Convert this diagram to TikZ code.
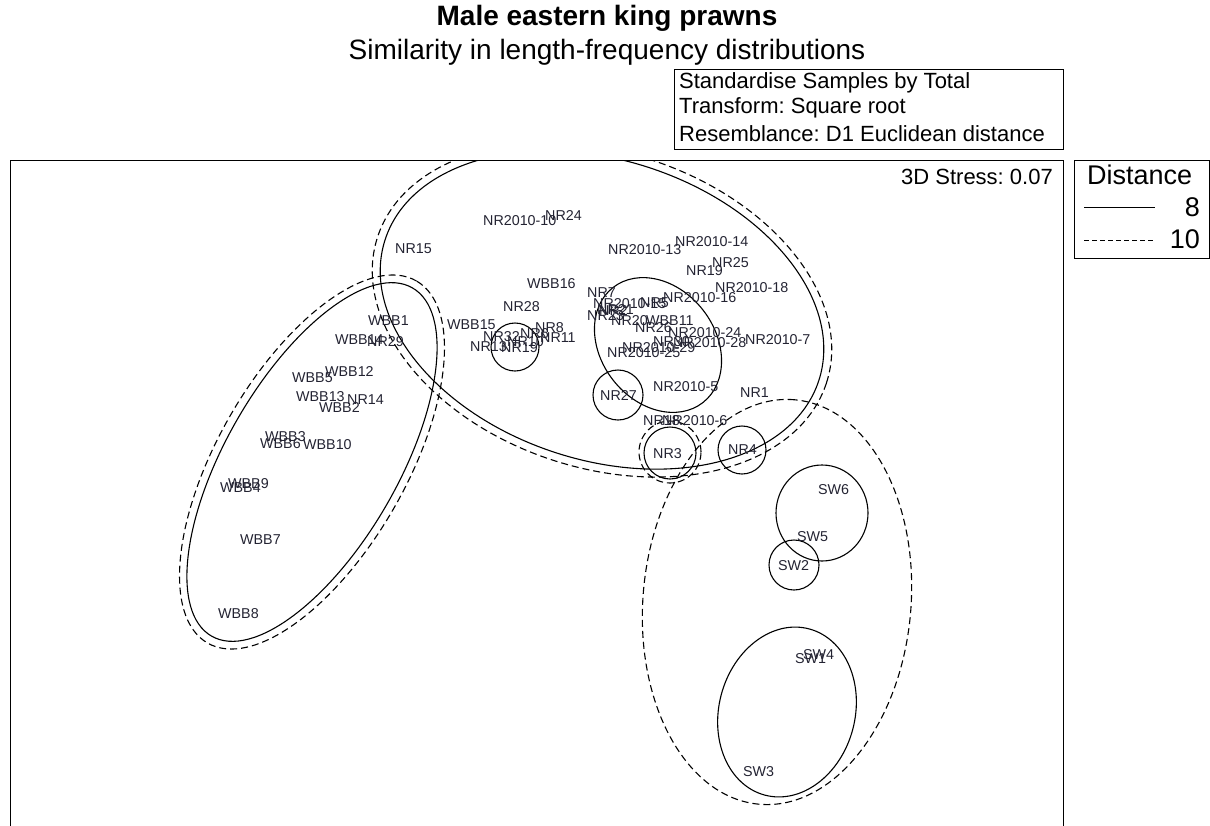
\documentclass[tikz,border=0pt]{standalone}
\usepackage{fontspec}
\setmainfont{Liberation Sans}
\definecolor{labc}{RGB}{35,35,50}
\frenchspacing
\begin{document}
\frenchspacing
\begin{tikzpicture}[x=1pt,y=-1pt,
  lab/.style={anchor=west,inner sep=0pt,font=\fontsize{14.3}{16}\selectfont,text=labc},
  hdr/.style={anchor=west,inner sep=0pt,font=\fontsize{22}{26}\selectfont},
  sol/.style={line width=1.1pt},
  dsh/.style={line width=1.1pt,dash pattern=on 7pt off 4pt},
  frm/.style={line width=1pt}]
\useasboundingbox (0,0) rectangle (1210,825);
% titles
\node[inner sep=0pt,font=\bfseries\fontsize{28}{32}\selectfont] (title) at (607,18) {Male eastern king prawns};
\node[inner sep=0pt,font=\fontsize{28}{32}\selectfont] (sub) at (607,52) {Similarity in length-frequency distributions};
% settings box
\draw[frm] (674,69) rectangle (1063,149);
\node[hdr] (t1) at (679,83) {Standardise Samples by Total};
\node[hdr] (t2) at (679,108) {Transform: Square root};
\node[hdr] (t3) at (679,134) {Resemblance: D1 Euclidean distance};
% plot frame
\draw[frm] (10,830) -- (10,160) -- (1063,160) -- (1063,830);
\node[hdr,anchor=east] (stress) at (1053,177) {3D Stress: 0.07};
% legend
\draw[frm] (1074,160) rectangle (1209,258);
\node[anchor=west,inner sep=0pt,font=\fontsize{27}{30}\selectfont] (dist) at (1087,175) {Distance};
\coordinate (l1a) at (1084,207); \coordinate (l1b) at (1155,207);
\coordinate (l2a) at (1084,240); \coordinate (l2b) at (1155,240);
\draw[line width=0.9pt] (l1a) -- (l1b);
\draw[line width=0.9pt,dash pattern=on 5pt off 3pt] (l2a) -- (l2b);
\node[anchor=east,inner sep=0pt,font=\fontsize{27}{30}\selectfont] (l8) at (1200,207) {8};
\node[anchor=east,inner sep=0pt,font=\fontsize{27}{30}\selectfont] (l10) at (1200,239) {10};
% ellipses
\begin{scope}
\clip (10,160) rectangle (1063,830);
\draw[sol,rotate around={-18:(602,310)}] (602,310) ellipse [x radius=228pt,y radius=150pt];
\draw[dsh,rotate around={-18:(602,310)}] (602,310) ellipse [x radius=236pt,y radius=158pt];
\draw[sol,rotate around={-52:(658,345)}] (658,345) ellipse [x radius=73pt,y radius=57pt];
\draw[sol] (515,347) circle [radius=24pt];
\draw[sol] (618,395) circle [radius=25pt];
\draw[sol] (670,453) circle [radius=26pt];
\draw[dsh] (670,452) circle [radius=31pt];
\draw[sol] (742,450) circle [radius=24pt];
\draw[sol] (822,513) ellipse [x radius=46pt,y radius=48pt];
\draw[sol] (794,565) circle [radius=25pt];
\draw[sol,rotate around={75:(787,712)}] (787,712) ellipse [x radius=86pt,y radius=68pt];
\draw[dsh,rotate around={85:(777,602)}] (777,602) ellipse [x radius=203pt,y radius=134pt];
\draw[sol,rotate around={60:(312,462)}] (312,462) ellipse [x radius=201pt,y radius=86pt];
\draw[dsh,rotate around={60:(312,462)}] (312,462) ellipse [x radius=209pt,y radius=94pt];
\end{scope}
% labels
\node[lab] (n1) at (483,221) {NR2010-10};
\node[lab] (n2) at (545,216) {NR24};
\node[lab] (n3) at (395,249) {NR15};
\node[lab] (n4) at (608,250) {NR2010-13};
\node[lab] (n5) at (675,242) {NR2010-14};
\node[lab] (n6) at (712,263) {NR25};
\node[lab] (n7) at (686,271) {NR19};
\node[lab] (n8) at (527,284) {WBB16};
\node[lab] (n9) at (715,288) {NR2010-18};
\node[lab] (n10) at (587,293) {NR7};
\node[lab] (n11) at (663,298) {NR2010-16};
\node[lab] (n12) at (593,304) {NR2010-15};
\node[lab] (n13) at (640,303) {NR5};
\node[lab] (n14) at (597,310) {NR21};
\node[lab] (n15) at (599,311) {NR2};
\node[lab] (n16) at (587,316) {NR23};
\node[lab] (n17) at (611,321) {NR20};
\node[lab] (n18) at (646,321) {WBB11};
\node[lab] (n19) at (635,328) {NR26};
\node[lab] (n20) at (668,333) {NR2010-24};
\node[lab] (n21) at (653,342) {NR30};
\node[lab] (n22) at (673,343) {NR2010-28};
\node[lab] (n23) at (745,340) {NR2010-7};
\node[lab] (n24) at (622,348) {NR2010-29};
\node[lab] (n25) at (607,353) {NR2010-25};
\node[lab] (n26) at (503,307) {NR28};
\node[lab] (n27) at (447,325) {WBB15};
\node[lab] (n28) at (535,328) {NR8};
\node[lab] (n29) at (483,337) {NR32};
\node[lab] (n30) at (520,334) {NR6};
\node[lab] (n31) at (540,338) {NR11};
\node[lab] (n32) at (470,347) {NR13};
\node[lab] (n33) at (507,342) {NR10};
\node[lab] (n34) at (501,348) {NR19};
\node[lab] (n35) at (368,321) {WBB1};
\node[lab] (n36) at (335,340) {WBB14};
\node[lab] (n37) at (367,342) {NR29};
\node[lab] (n38) at (325,372) {WBB12};
\node[lab] (n39) at (292,378) {WBB5};
\node[lab] (n40) at (296,397) {WBB13};
\node[lab] (n41) at (347,400) {NR14};
\node[lab] (n42) at (319,407) {WBB2};
\node[lab] (n43) at (265,437) {WBB3};
\node[lab] (n44) at (260,444) {WBB6};
\node[lab] (n45) at (303,445) {WBB10};
\node[lab] (n46) at (228,484) {WBB9};
\node[lab] (n47) at (220,488) {WBB4};
\node[lab] (n48) at (240,540) {WBB7};
\node[lab] (n49) at (218,614) {WBB8};
\node[lab] (n50) at (600,396) {NR27};
\node[lab] (n51) at (653,387) {NR2010-5};
\node[lab] (n52) at (740,393) {NR1};
\node[lab] (n53) at (643,421) {NR18};
\node[lab] (n54) at (662,421) {NR2010-6};
\node[lab] (n55) at (653,454) {NR3};
\node[lab] (n56) at (728,450) {NR4};
\node[lab] (n57) at (818,490) {SW6};
\node[lab] (n58) at (797,537) {SW5};
\node[lab] (n59) at (778,566) {SW2};
\node[lab] (n60) at (803,655) {SW4};
\node[lab] (n61) at (795,659) {SW1};
\node[lab] (n62) at (743,772) {SW3};
\end{tikzpicture}
\end{document}
